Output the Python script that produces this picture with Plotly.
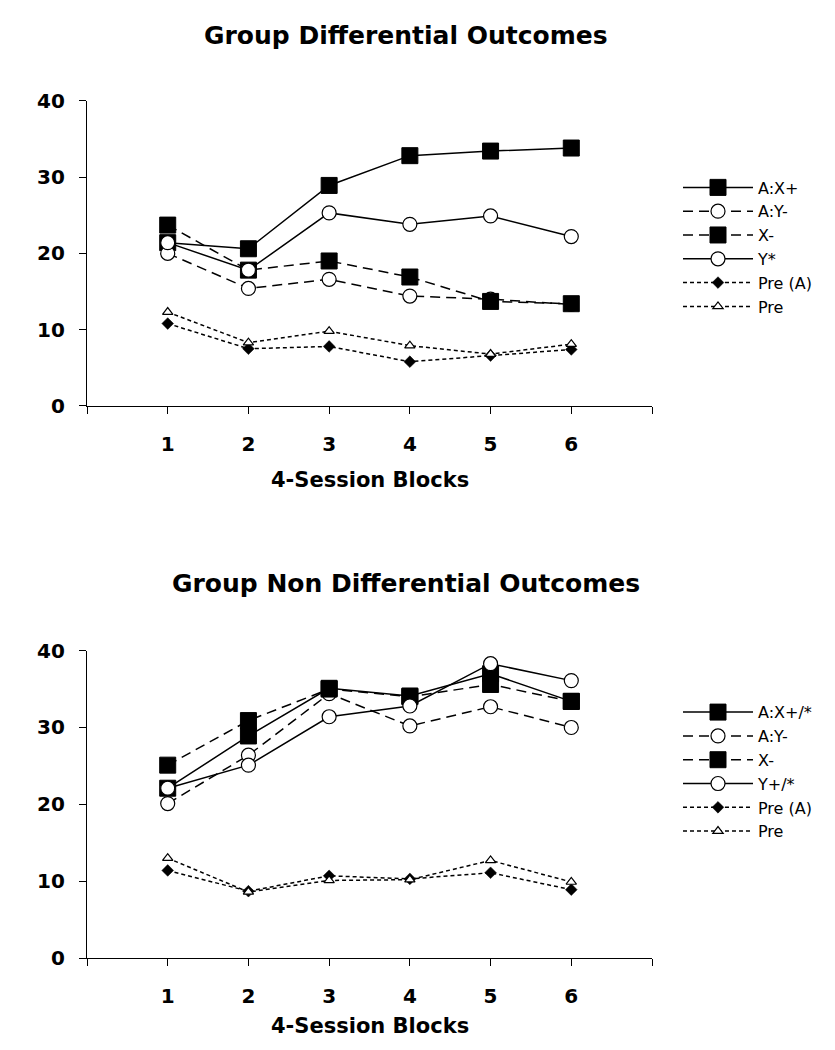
import plotly.graph_objects as go

blocks = [1, 2, 3, 4, 5, 6]
x_tickvals = [0, 1, 2, 3, 4, 5, 6, 7]
x_ticktext = ["", "1", "2", "3", "4", "5", "6", ""]
y_tickvals = [0, 10, 20, 30, 40]

# Top panel: Group Differential Outcomes
top_title = "Group Differential Outcomes"
top_names = ["A:X+", "A:Y-", "X-", "Y*", "Pre (A)", "Pre"]
top_axy = [21.4, 20.6, 28.9, 32.8, 33.4, 33.8]
top_ay_minus = [20.0, 15.4, 16.6, 14.4, 14.0, 13.3]
top_x_minus = [23.7, 17.8, 19.0, 16.9, 13.7, 13.4]
top_y_star = [21.4, 17.8, 25.3, 23.8, 24.9, 22.2]
top_pre_a = [10.8, 7.5, 7.8, 5.8, 6.6, 7.4]
top_pre = [12.3, 8.3, 9.8, 7.9, 6.8, 8.1]

# Bottom panel: Group Non Differential Outcomes
bot_title = "Group Non Differential Outcomes"
bot_names = ["A:X+/*", "A:Y-", "X-", "Y+/*", "Pre (A)", "Pre"]
bot_axy = [22.1, 28.9, 35.1, 34.1, 37.0, 33.4]
bot_ay_minus = [20.1, 26.4, 34.4, 30.2, 32.7, 30.0]
bot_x_minus = [25.1, 30.9, 35.0, 34.0, 35.6, 33.4]
bot_y_plus = [22.1, 25.1, 31.4, 32.8, 38.3, 36.1]
bot_pre_a = [11.4, 8.7, 10.7, 10.3, 11.1, 8.9]
bot_pre = [13.0, 8.6, 10.1, 10.2, 12.7, 9.9]

xlabel = "4-Session Blocks"

SOLID = "solid"
LONG = "10px,6px"
SHORT = "4px,3px"

styles = [
    dict(dash=SOLID, symbol="square", size=16, fill="black", lw=1.0),
    dict(dash=LONG, symbol="circle", size=14, fill="white", lw=1.2),
    dict(dash=LONG, symbol="square", size=16, fill="black", lw=1.0),
    dict(dash=SOLID, symbol="circle", size=14, fill="white", lw=1.2),
    dict(dash=SHORT, symbol="diamond", size=9, fill="black", lw=0.5),
    dict(dash=SHORT, symbol="triangle-up", size=9, fill="white", lw=1.2),
]

fig = go.Figure()

def add_panel(names, series, xa, ya, legend):
    for i, (name, vals) in enumerate(zip(names, series)):
        st = styles[i]
        fig.add_trace(go.Scatter(
            x=blocks, y=vals, name=name, mode="lines+markers",
            xaxis=xa, yaxis=ya, legend=legend, legendgroup=legend + str(i),
            line=dict(color="black", width=1.5, dash=st["dash"]),
            marker=dict(symbol=st["symbol"], size=st["size"], color=st["fill"],
                        line=dict(color="black", width=st["lw"])),
        ))

add_panel(top_names, [top_axy, top_ay_minus, top_x_minus, top_y_star, top_pre_a, top_pre],
          "x", "y", "legend")
add_panel(bot_names, [bot_axy, bot_ay_minus, bot_x_minus, bot_y_plus, bot_pre_a, bot_pre],
          "x2", "y2", "legend2")

W, H = 835, 1050
x_dom = [79 / W, 644 / W]
top_dom = [1 - 395 / H, 1 - 82.6 / H]
bot_dom = [1 - 960 / H, 1 - 645.4 / H]

tickfont = dict(family="DejaVu Sans", size=20, color="black", weight="bold")

def xaxis(anchor):
    return dict(domain=x_dom, anchor=anchor, range=[0, 7], tickvals=x_tickvals,
                ticktext=x_ticktext, showline=True, linecolor="black", linewidth=1.3,
                ticks="outside", ticklen=7, tickcolor="black", tickwidth=1.3,
                showgrid=False, zeroline=False, tickfont=tickfont,
                ticklabelstandoff=13)

def yaxis(anchor, dom):
    return dict(domain=dom, anchor=anchor, range=[0, 40], tickvals=y_tickvals,
                showline=True, linecolor="black", linewidth=1.3,
                ticks="outside", ticklen=7, tickcolor="black", tickwidth=1.3,
                showgrid=False, zeroline=False, tickfont=tickfont,
                ticklabelstandoff=10)

legend_common = dict(
    xanchor="left", yanchor="top", bgcolor="rgba(0,0,0,0)",
    font=dict(family="DejaVu Sans", size=16, color="black"),
    tracegroupgap=0, itemwidth=70, itemclick=False,
)

fig.update_layout(
    width=W, height=H,
    margin=dict(l=0, r=0, t=0, b=0),
    paper_bgcolor="white", plot_bgcolor="white",
    xaxis=xaxis("y"), yaxis=yaxis("x", top_dom),
    xaxis2=xaxis("y2"), yaxis2=yaxis("x2", bot_dom),
    legend=dict(x=670 / W, y=1 - 154 / H, **legend_common),
    legend2=dict(x=670 / W, y=1 - 691 / H, **legend_common),
    showlegend=True,
)

titlefont = dict(family="DejaVu Sans", size=25, color="black", weight="bold")
xtfont = dict(family="DejaVu Sans", size=21, color="black", weight="bold")
x_center = (79 + 644) / 2 / W
fig.add_annotation(text=top_title, x=398 / W, y=1 - 16 / H, xref="paper", yref="paper",
                   showarrow=False, font=titlefont, xanchor="center", yanchor="middle")
fig.add_annotation(text=bot_title, x=398 / W, y=1 - 577 / H, xref="paper", yref="paper",
                   showarrow=False, font=titlefont, xanchor="center", yanchor="middle")
fig.add_annotation(text=xlabel, x=x_center, y=1 - 471 / H, xref="paper", yref="paper",
                   showarrow=False, font=xtfont, xanchor="center", yanchor="middle")
fig.add_annotation(text=xlabel, x=x_center, y=1 - 1030 / H, xref="paper", yref="paper",
                   showarrow=False, font=xtfont, xanchor="center", yanchor="middle")

fig.write_html("out.html")
